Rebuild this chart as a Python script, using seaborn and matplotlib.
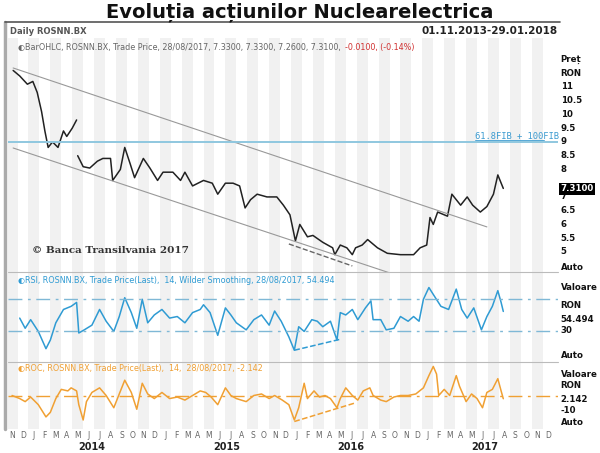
import matplotlib
matplotlib.use("Agg")
import matplotlib.pyplot as plt
import matplotlib.transforms as mtransforms
import seaborn as sns

# ── data (x = months since 1 Nov 2013) ────────────────────────────────────────
price_a_m = [0.1, 0.7, 1.4, 1.9, 2.3, 2.7, 3.0, 3.3, 3.7, 4.2, 4.7, 5.0, 5.5, 5.9]
price_a_v = [11.6, 11.4, 11.1, 11.2, 10.8, 10.1, 9.4, 8.8, 9.0, 8.8, 9.4, 9.2, 9.5, 9.8]
price_b_m = [6.0, 6.5, 7.1, 7.8, 8.3, 9.0, 9.2, 9.9, 10.3, 10.8, 11.2, 12.0, 12.6, 13.3,
             13.8, 14.7, 15.4, 15.8, 16.5, 17.5, 18.3, 18.8, 19.5, 20.2, 20.8, 21.3,
             21.8, 22.4, 23.3, 24.2, 24.8, 25.4, 25.9, 26.3, 27.0, 27.5, 28.4, 29.3,
             29.5, 30.0, 30.6, 31.1, 31.4, 32.0, 32.5, 33.4, 34.3, 35.5, 36.7, 37.3,
             37.9, 38.2, 38.5, 38.9, 39.8, 40.2, 41.0, 41.6, 42.1, 42.8, 43.4, 44.0,
             44.4, 44.9]
price_b_v = [8.5, 8.1, 8.05, 8.3, 8.4, 8.4, 7.6, 8.0, 8.8, 8.2, 7.7, 8.4, 8.05, 7.6,
             7.9, 7.9, 7.6, 7.9, 7.4, 7.6, 7.5, 7.1, 7.5, 7.5, 7.4, 6.6,
             6.9, 7.1, 7.0, 7.0, 6.7, 6.35, 5.4, 6.0, 5.55, 5.6, 5.35, 5.15,
             4.9, 5.25, 5.15, 4.9, 5.15, 5.25, 5.45, 5.15, 4.95, 4.9, 4.9, 5.15,
             5.25, 6.25, 6.0, 6.45, 6.3, 7.1, 6.7, 7.0, 6.7, 6.45, 6.65, 7.1,
             7.8, 7.31]

rsi_m = [0.7, 1.2, 1.7, 2.4, 3.1, 3.5, 4.0, 4.7, 5.4, 5.9, 6.1, 6.6, 7.3, 8.0, 8.6,
         9.3, 9.8, 10.3, 10.9, 11.4, 11.9, 12.4, 13.0, 13.7, 14.4, 15.1, 15.8, 16.5,
         17.2, 17.5, 18.1, 18.8, 19.5, 20.0, 20.5, 21.4, 22.1, 22.8, 23.5, 24.0,
         24.6, 25.3, 25.8, 26.2, 26.7, 27.4, 27.9, 28.4, 29.1, 29.7, 30.0, 30.5,
         31.1, 31.6, 32.3, 32.8, 33.0, 33.7, 34.2, 34.9, 35.5, 36.2, 36.7, 37.2,
         37.6, 38.1, 38.6, 39.2, 39.9, 40.6, 41.1, 41.6, 42.2, 42.9, 43.4, 43.9,
         44.4, 44.7, 44.9]
rsi_v = [46, 33, 44, 29, 7, 18, 40, 57, 61, 66, 27, 31, 37, 57, 42,
         29, 48, 72, 53, 33, 70, 40, 50, 57, 46, 48, 40, 53,
         57, 63, 53, 24, 59, 50, 40, 31, 44, 50, 37, 55,
         42, 22, 5, 35, 29, 44, 42, 35, 42, 18, 53, 50,
         57, 44, 59, 68, 44, 44, 31, 33, 48, 42, 48, 42,
         70, 85, 74, 61, 57, 83, 57, 46, 59, 31, 48, 61,
         81, 66, 54.5]

roc_m = [0.0, 0.7, 1.2, 1.7, 2.4, 3.1, 3.5, 4.0, 4.5, 5.1, 5.4, 5.9, 6.1, 6.5, 6.8,
         7.3, 8.0, 8.6, 9.3, 9.8, 10.3, 10.9, 11.4, 11.9, 12.4, 13.0, 13.7, 14.4,
         15.1, 15.8, 16.5, 17.2, 17.7, 18.2, 18.8, 19.5, 20.0, 20.5, 21.4, 22.1,
         22.8, 23.5, 24.0, 24.7, 25.3, 25.8, 26.2, 26.7, 27.0, 27.6, 28.1, 28.6,
         29.1, 29.7, 30.0, 30.5, 31.1, 31.6, 32.1, 32.7, 33.0, 33.7, 34.2, 34.9,
         35.5, 36.2, 36.9, 37.6, 38.1, 38.5, 38.8, 39.0, 39.5, 40.0, 40.6, 40.9,
         41.5, 42.0, 42.5, 43.0, 43.4, 43.9, 44.4, 44.7, 44.9]
roc_v = [0, -2, -4, -1, -6, -14, -11, -2, 4, 3, 5, 3, -6, -16, -4,
         2, 5, 0, -8, 1, 10, 2, -9, 8, 1, -2, 2, -2,
         -1, -3, 0, 3, 2, -1, -6, 5, 0, -2, -4, 0,
         1, -2, 0, -3, -6, -16, -8, 8, -2, 3, -1, 0,
         -2, -8, -2, 5, 0, -3, 3, 5, 0, -3, -4, -1,
         0, 0, 1, 5, 13, 19, 14, 0, 4, 0, 13, 6,
         -4, 1, -2, -8, 2, 4, 11, 3, -2.1]

# trend lines drawn on chart: (m, value) endpoints
upper_channel = ([0.1, 43.4], [11.69, 5.91])
lower_channel = ([0.1, 34.5], [8.78, 4.24])
price_dash = ([25.3, 31.1], [5.29, 4.49])
rsi_dash = ([25.8, 30.0], [5, 19])
roc_dash = ([25.8, 31.3], [-17, -5])
fib_level = 9.0

month_letters = list("JFMAMJJASOND")
year_labels = ["2014", "2015", "2016", "2017"]
year_pos = [7.3, 19.6, 31.0, 43.2]
price_ticks = [5, 5.5, 6, 6.5, 7, 8, 8.5, 9, 9.5, 10, 10.5, 11]

# ── styling ───────────────────────────────────────────────────────────────────
BLUE, ORANGE, FIB = "#2f9bd3", "#f0a033", "#8fc7df"
XL = (-0.37, 49.9)
W, H = 600, 453

sns.set_theme(style="white", font="DejaVu Sans")
fig = plt.figure(figsize=(6, 4.53), dpi=100)
fig.patch.set_facecolor("white")


def add_ax(top, bottom):
    return fig.add_axes([8 / W, (H - bottom) / H, 550 / W, (bottom - top) / H])


ax_p = add_ax(38, 272)
ax_r = add_ax(272, 362)
ax_c = add_ax(362, 429)

for ax in (ax_p, ax_r, ax_c):
    ax.set_xlim(*XL)
    for i in range(0, 50, 2):
        ax.axvspan(i - 0.5, i + 0.5, color="#f1f1f1", lw=0, zorder=0)
    for s in ax.spines.values():
        s.set_visible(False)
    ax.set_xticks([]); ax.set_yticks([])

# price panel
ax_p.set_ylim(4.27, 12.78)
sns.lineplot(x=price_a_m, y=price_a_v, ax=ax_p, color="#222222", lw=1.1)
sns.lineplot(x=price_b_m, y=price_b_v, ax=ax_p, color="#222222", lw=1.1)
sns.lineplot(x=upper_channel[0], y=upper_channel[1], ax=ax_p, color="#999999", lw=0.8)
sns.lineplot(x=lower_channel[0], y=lower_channel[1], ax=ax_p, color="#999999", lw=0.8)
sns.lineplot(x=price_dash[0], y=price_dash[1], ax=ax_p, color="#666666", lw=1.0, ls="--")
ax_p.axhline(fib_level, color=FIB, lw=1.4)
ax_p.text(42.3, fib_level + 0.12, "61.8FIB + 100FIB", color="#3a9ad0", fontsize=6.3,
          family="DejaVu Sans Mono")
ax_p.plot([42.3, 48.6], [fib_level + 0.08] * 2, color="#3a9ad0", lw=0.6)
ax_p.text(1.8, 4.95, "© Banca Transilvania 2017", family="DejaVu Serif",
          fontsize=7.5, color="#333333", fontweight="bold")
ax_p.text(0.5, 12.45, "◐BarOHLC, ROSNN.BX, Trade Price, 28/08/2017, 7.3300, 7.3300, 7.2600, 7.3100,",
          fontsize=5.8, color="#666666", va="center")
ax_p.text(30.4, 12.45, "-0.0100, (-0.14%)", fontsize=5.8, color="#d03030", va="center")

# RSI panel
ax_r.set_ylim(-10, 104.8)
sns.lineplot(x=rsi_m, y=rsi_v, ax=ax_r, color=BLUE, lw=1.1)
sns.lineplot(x=rsi_dash[0], y=rsi_dash[1], ax=ax_r, color=BLUE, lw=1.1, ls="--")
for lvl in (70, 30):
    ax_r.axhline(lvl, color="#7fb8d6", lw=1.0, dashes=(10, 4, 2, 4))
ax_r.text(0.5, 94, "◐RSI, ROSNN.BX, Trade Price(Last),  14, Wilder Smoothing, 28/08/2017, 54.494",
          fontsize=5.8, color=BLUE, va="center")

# ROC panel
ax_c.set_ylim(-21.9, 21.9)
sns.lineplot(x=roc_m, y=roc_v, ax=ax_c, color=ORANGE, lw=1.1)
sns.lineplot(x=roc_dash[0], y=roc_dash[1], ax=ax_c, color=ORANGE, lw=1.1, ls="--")
ax_c.axhline(0, color=ORANGE, lw=1.0, dashes=(10, 4, 2, 4))
ax_c.text(0.5, 17.5, "◐ROC, ROSNN.BX, Trade Price(Last),  14,  28/08/2017, -2.142",
          fontsize=5.8, color=ORANGE, va="center")

# month letters + years
ax_c.set_xticks(range(50))
ax_c.set_xticklabels([month_letters[(i + 10) % 12] for i in range(50)],
                     fontsize=5.5, color="#666666")
ax_c.tick_params(axis="x", length=0, pad=1.5)
tr_y = mtransforms.blended_transform_factory(ax_c.transData, fig.transFigure)
for lab, pos in zip(year_labels, year_pos):
    ax_c.text(pos, 1 - 447 / H, lab, transform=tr_y, ha="center", fontsize=7,
              fontweight="bold", color="#222222", clip_on=False, va="center")


def right_labels(ax, items):
    tr = mtransforms.blended_transform_factory(ax.transAxes, ax.transData)
    for y, txt in items:
        ax.text(1.005, y, txt, transform=tr, fontsize=6.2, fontweight="bold",
                va="center", color="#111111")


right_labels(ax_p, [(12.0, "Preț"), (11.5, "RON"), (4.42, "Auto")] +
             [(t, f"{t:g}") for t in price_ticks])
tr = mtransforms.blended_transform_factory(ax_p.transAxes, ax_p.transData)
ax_p.text(1.005, 7.3, "7.3100", transform=tr, fontsize=6.2, fontweight="bold",
          va="center", color="white",
          bbox=dict(facecolor="black", edgecolor="none", pad=1.0))
right_labels(ax_r, [(85, "Valoare"), (62, "RON"), (44, "54.494"), (30, "30"), (-2, "Auto")])
right_labels(ax_c, [(13.8, "Valoare"), (6.3, "RON"), (-2.5, "2.142"), (-10, "-10"), (-17.5, "Auto")])

# frame lines and header
fig.add_artist(plt.Line2D([5 / W, 5 / W], [1 - 22 / H, 1 - 429 / H], color="#aaaaaa", lw=2.5))
fig.add_artist(plt.Line2D([5 / W, 560 / W], [1 - 22 / H] * 2, color="#555555", lw=1.2))
for yy in (272, 362):
    fig.add_artist(plt.Line2D([8 / W, 558 / W], [1 - yy / H] * 2, color="#bbbbbb", lw=0.8))
fig.text(10 / W, 1 - 31 / H, "Daily ROSNN.BX", fontsize=6, fontweight="bold",
         color="#555555", va="center")
fig.text(490 / W, 1 - 31 / H, "01.11.2013-29.01.2018", fontsize=7.5, fontweight="bold",
         color="#222222", va="center", ha="center")
fig.text(0.5, 1 - 12 / H, "Evoluția acțiunilor Nuclearelectrica", fontsize=14,
         fontweight="bold", ha="center", va="center", color="#111111")

plt.savefig("out.png", dpi=100)
plt.close()
